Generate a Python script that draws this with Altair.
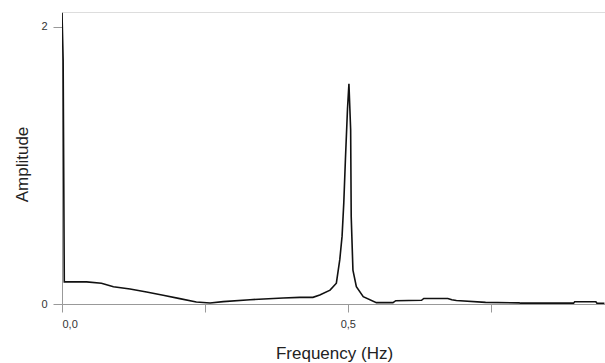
import altair as alt
import pandas as pd

freq = [0, 0.002, 0.004, 0.043, 0.069, 0.090, 0.119, 0.148, 0.177, 0.206,
        0.235, 0.259, 0.282, 0.329, 0.387, 0.416, 0.439, 0.451, 0.469, 0.480,
        0.486, 0.490, 0.493, 0.496, 0.4995, 0.502, 0.505, 0.506, 0.509, 0.515,
        0.527, 0.550, 0.579, 0.584, 0.629, 0.633, 0.675, 0.682, 0.690, 0.741,
        0.800, 0.802, 0.895, 0.897, 0.934, 0.936, 0.949]
amp = [2.1, 1.76, 0.16, 0.16, 0.15, 0.125, 0.108, 0.087, 0.063, 0.039,
       0.014, 0.007, 0.017, 0.031, 0.043, 0.048, 0.048, 0.065, 0.10, 0.15,
       0.32, 0.49, 0.73, 1.06, 1.41, 1.59, 1.26, 0.63, 0.245, 0.125,
       0.053, 0.01, 0.01, 0.024, 0.027, 0.04, 0.04, 0.03, 0.025, 0.012,
       0.008, 0.006, 0.006, 0.016, 0.016, 0.005, 0.005]

x_ticks = [0, 0.25, 0.5, 0.75]
y_ticks = [0, 1, 2]

df = pd.DataFrame({"f": freq, "a": amp})

chart = alt.Chart(df).mark_line(color="#111111", strokeWidth=1.6, clip=True).encode(
    x=alt.X("f:Q", scale=alt.Scale(domain=[0, 0.95], nice=False, zero=False),
            axis=alt.Axis(values=x_ticks, title="Frequency (Hz)", grid=False,
                          labelExpr="datum.value == 0 ? '0,0' : (datum.value == 0.5 ? '0,5' : '')",
                          domainColor="#999999", tickColor="#999999", tickSize=8,
                          labelPadding=6, labelFont="Liberation Sans", labelFontSize=11,
                          labelColor="#333333", titleFont="Liberation Sans",
                          titleFontSize=17, titleFontWeight="normal", titleColor="#222222",
                          titleX=272, titleY=54, titleBaseline="alphabetic",
                          titleAlign="center")),
    y=alt.Y("a:Q", scale=alt.Scale(domain=[0, 2.108], nice=False),
            axis=alt.Axis(values=y_ticks, title="Amplitude", grid=False, format="d",
                          labelExpr="datum.value == 1 ? '' : datum.label",
                          domainColor="#999999", tickColor="#999999", tickSize=9,
                          labelPadding=6, labelFont="Liberation Sans", labelFontSize=11,
                          labelColor="#333333", titleFont="Liberation Sans",
                          titleFontSize=17, titleFontWeight="normal", titleColor="#222222",
                          titleX=-35, titleY=152, titleAngle=-90, titleBaseline="alphabetic",
                          titleAlign="center")),
).properties(
    width=543, height=292,
    autosize=alt.AutoSizeParams(type="none"),
    padding={"left": 62, "top": 12, "right": 0, "bottom": 59},
).configure_view(stroke=None).configure(background="white")

chart.save("out.html", embed_options={"renderer": "svg", "actions": False})
